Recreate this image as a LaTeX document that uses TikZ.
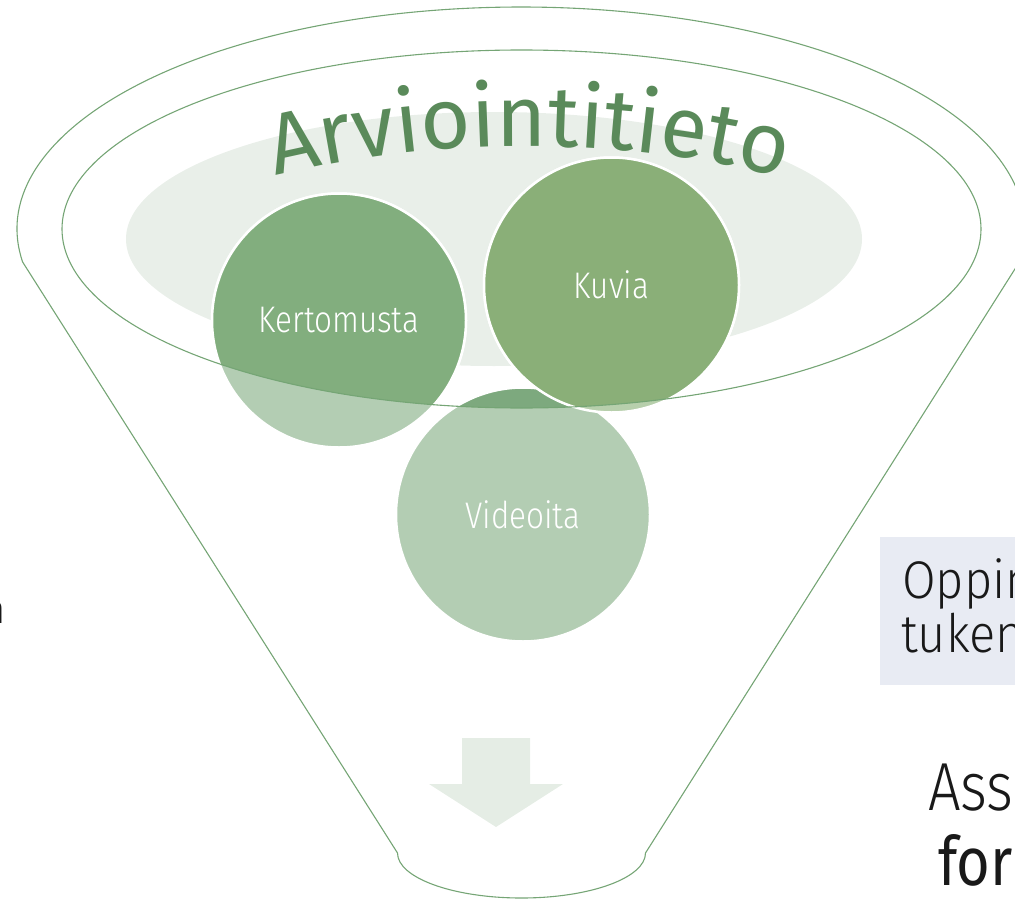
\documentclass[tikz,border=0pt]{standalone}
\usepackage{fontspec}
\setmainfont{Fira Sans}
\newfontfamily\lightf{Fira Sans Light}[FakeStretch=0.85]
\newfontfamily\lightw{Fira Sans Light}[FakeStretch=0.92]
\newfontfamily\regf{Fira Sans}[FakeStretch=0.85]
\usetikzlibrary{decorations.text}
\definecolor{outl}{HTML}{75A575}
\definecolor{lightbg}{HTML}{E9EFE9}
\definecolor{kertdark}{HTML}{82AE7E}
\definecolor{kuvdark}{HTML}{8AAF78}
\definecolor{viddark}{HTML}{7DA97E}
\definecolor{kertlight}{HTML}{B3CDB3}
\definecolor{kuvlight}{HTML}{B7CFAC}
\definecolor{vidlight}{HTML}{B3CDB3}
\definecolor{titlegreen}{HTML}{5A8A5A}
\definecolor{arrowfill}{HTML}{E5EDE5}
\definecolor{boxfill}{HTML}{E8EBF3}
\newcommand\arvfont{\fontsize{86}{90}\selectfont}
\tikzset{
  funnelline/.style={draw=outl, line width=1.1pt},
  bubble/.style={draw=white, line width=2.5pt},
  bubbletext/.style={text=white, inner sep=0pt, font=\lightf\fontsize{37}{40}\selectfont},
  sidetext/.style={text=black!90, inner sep=0pt, anchor=base west}
}
\begin{document}
\begin{tikzpicture}[x=1pt,y=1pt]
\useasboundingbox (0,0) rectangle (1015,-899);
\clip (0,0) rectangle (1015,-899);

% light background ellipse
\fill[lightbg] (494,-239) ellipse [x radius=368, y radius=127];

% circles, light (outside funnel mouth)
\fill[vidlight, bubble] (523,-514.5) circle [radius=127];
\fill[kertlight, bubble] (339,-320.5) circle [radius=127];
\fill[kuvlight, bubble] (611.5,-285) circle [radius=127.5];

% circles, dark (inside funnel mouth)
\begin{scope}
\clip (521.5,-229) ellipse [x radius=459.5, y radius=179];
\fill[viddark, bubble] (523,-514.5) circle [radius=127];
\fill[kertdark, bubble] (339,-320.5) circle [radius=127];
\fill[kuvdark, bubble] (611.5,-285) circle [radius=127.5];
\end{scope}

% inner ellipse outline
\draw[funnelline] (521.5,-229) ellipse [x radius=459.5, y radius=179];

% funnel outline
\draw[funnelline, line join=round]
  ([shift={(188.55:504 and 222)}]521,-229)
  arc [start angle=188.55, end angle=-8.55, x radius=504, y radius=222]
  -- (645.5,-853)
  arc [start angle=0, end angle=-180, x radius=124, y radius=45]
  -- cycle;

% title along arc
\path[decorate, decoration={text along path,
    text={|\arvfont|Arviointitieto},
    text align={fit to path}, text color=titlegreen}]
  (275.5,-175.9) arc [start angle=103.67, end angle=76.33, radius=1058];

% circle labels
\node[bubbletext] (kert) at (339,-320.5) {Kertomusta};
\node[bubbletext] (kuv) at (611.5,-285) {Kuvia};
\node[bubbletext] (vid) at (523,-514.5) {Videoita};

% down arrow
\fill[arrowfill] (462,-738) -- (530,-738) -- (530,-784) -- (563,-784)
  -- (496,-827) -- (429,-784) -- (462,-784) -- cycle;

% right box
\fill[boxfill] (880,-537) rectangle (1020,-685);
\node[sidetext, font=\lightw\fontsize{53}{56}\selectfont] (opp) at (902,-598) {Oppim};
\node[sidetext, font=\lightw\fontsize{53}{56}\selectfont] (tuk) at (901,-652) {tuken};

% lower right text
\node[sidetext, font=\lightf\fontsize{68}{72}\selectfont] (ass) at (928,-810) {Ass};
\node[sidetext, font=\regf\fontsize{68}{72}\selectfont] (for) at (938,-885) {for};

% cut text at left edge
\node[text=black!90, inner sep=0pt, anchor=base east, font=\lightf\fontsize{40}{44}\selectfont] (lft) at (6,-623) {n};
\end{tikzpicture}
\end{document}
